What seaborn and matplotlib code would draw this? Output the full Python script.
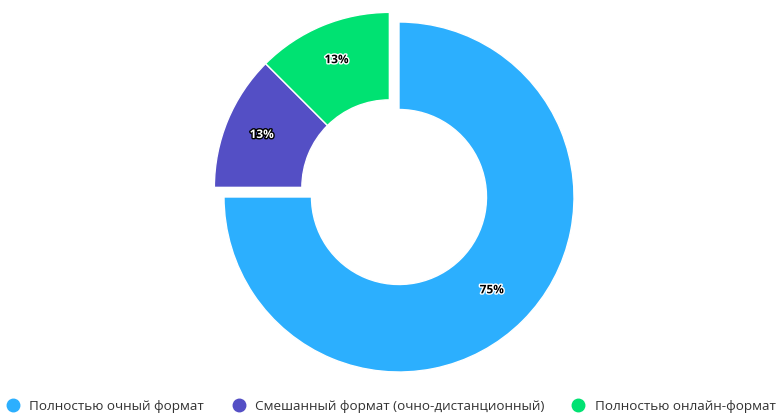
import matplotlib
matplotlib.use('Agg')
import matplotlib.pyplot as plt
import matplotlib.patheffects as pe
from matplotlib.lines import Line2D
import numpy as np
import seaborn as sns

# данные
categories = ['Полностью очный формат',
              'Смешанный формат (очно-дистанционный)',
              'Полностью онлайн-формат']
shares = [75, 12.5, 12.5]
colors = ['#2caffe', '#544fc5', '#00e272']
sliced = [False, True, True]

sns.set_theme(style='white')
plt.rcParams['font.family'] = ['Open Sans', 'DejaVu Sans']

fig = plt.figure(figsize=(7.76, 4.14), dpi=100)
ax = fig.add_axes([0, 0, 1, 1])

wedges, texts, autotexts = ax.pie(
    shares, colors=colors, startangle=90, counterclock=False,
    radius=1.0, pctdistance=0.75,
    autopct=lambda p: f'{int(p + 0.5)}%',
    wedgeprops=dict(width=0.5, edgecolor='white', linewidth=1),
    textprops=dict(fontsize=8.5, fontweight='bold'))

# смещение выдвинутых секторов (вверх-влево)
shift = np.array([-0.055, 0.055])
for w, t, s, c in zip(wedges, autotexts, sliced, colors):
    rgb = np.array(matplotlib.colors.to_rgb(c))
    lum = 0.2126 * rgb[0] + 0.7152 * rgb[1] + 0.0722 * rgb[2]
    fg, bg = ('#000000', '#ffffff') if lum > 0.45 else ('#ffffff', '#000000')
    t.set_color(fg)
    t.set_path_effects([pe.withStroke(linewidth=2, foreground=bg)])
    if s:
        w.set_center(tuple(shift))
        th = np.deg2rad((w.theta1 + w.theta2) / 2)
        t.set_position((shift[0] + 0.79 * np.cos(th), shift[1] + 0.79 * np.sin(th)))

ax.set_xlim(-399 / 175, 377 / 175)
ax.set_ylim(-216 / 175, 198 / 175)
ax.set_aspect('auto')
ax.axis('off')

handles = [Line2D([], [], marker='o', linestyle='none', markersize=9,
                  markerfacecolor=c, markeredgecolor=c) for c in colors]
fig.legend(handles, categories, loc='center',
           bbox_to_anchor=(0.5 + 3 / 776, 7 / 414),
           ncol=3, frameon=False, fontsize=9.7, handlelength=1.0,
           handletextpad=0.7, columnspacing=2.05, labelcolor='#333333',
           borderaxespad=0)

fig.savefig('out.png', dpi=100)
